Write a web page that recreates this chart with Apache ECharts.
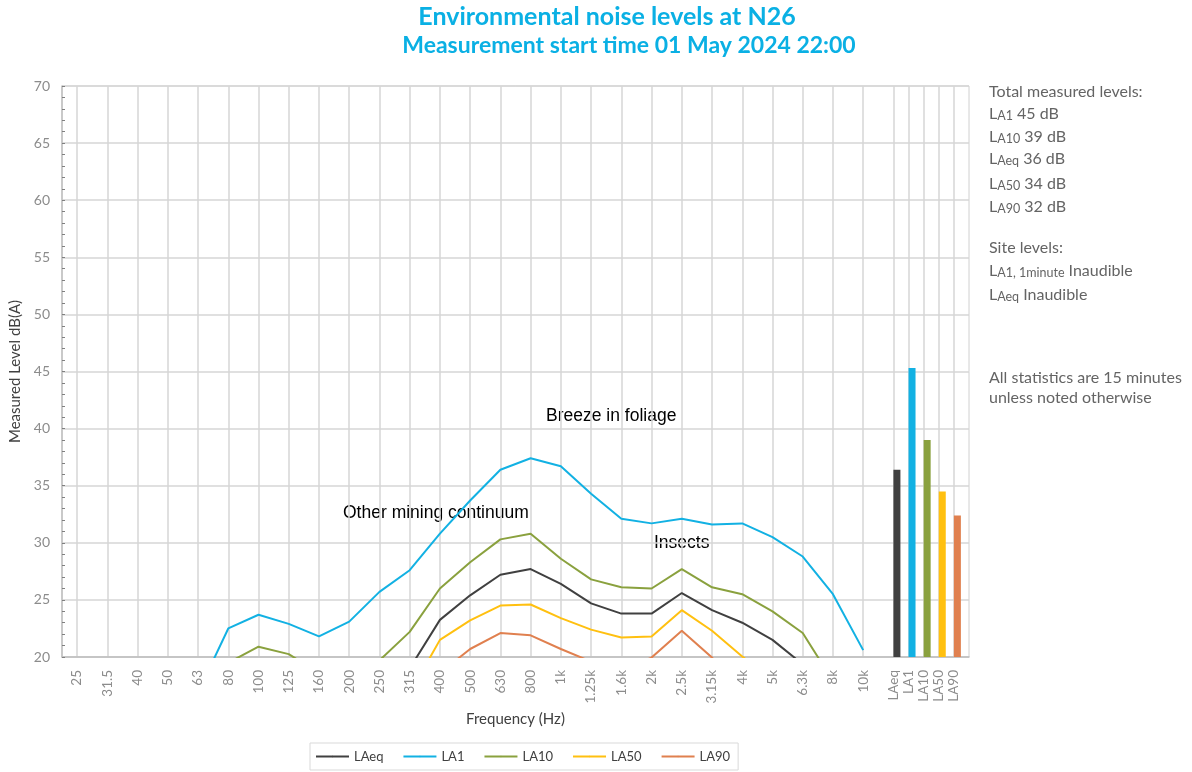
<!DOCTYPE html>
<html><head><meta charset="utf-8">
<script src="https://cdn.jsdelivr.net/npm/echarts@6/dist/echarts.min.js"></script>
<style>html,body{margin:0;padding:0;background:#fff}#c{width:1192px;height:772px}</style>
</head><body><div id="c"></div>
<script>
// ---- data ----
const bands = ['25','31.5','40','50','63','80','100','125','160','200','250','315','400','500','630','800','1k','1.25k','1.6k','2k','2.5k','3.15k','4k','5k','6.3k','8k','10k'];
const totalLabels = ['LAeq','LA1','LA10','LA50','LA90'];
const LAeq = [9.5,10.0,10.5,11.2,12.5,15.5,16.8,16.2,15.0,15.4,17.0,19.0,23.25,25.4,27.2,27.7,26.4,24.7,23.8,23.8,25.6,24.1,23.0,21.5,19.36,16.0,12.5];
const LA1  = [13.5,14.2,14.8,15.6,16.9,22.5,23.7,22.9,21.8,23.1,25.7,27.6,30.8,33.7,36.4,37.4,36.7,34.3,32.1,31.7,32.1,31.6,31.7,30.5,28.8,25.5,20.6];
const LA10 = [11.0,11.5,12.2,13.0,14.5,19.5,20.9,20.25,18.6,18.2,19.7,22.2,26.0,28.3,30.3,30.8,28.6,26.8,26.1,26.0,27.7,26.1,25.5,24.0,22.1,17.9,14.5];
const LA50 = [7.5,8.0,8.5,9.2,10.5,13.5,14.8,14.2,13.0,13.5,15.0,16.8,21.5,23.2,24.5,24.6,23.4,22.4,21.7,21.8,24.1,22.3,20.05,18.0,16.0,13.0,10.0];
const LA90 = [6.0,6.5,7.0,7.5,8.5,11.5,12.8,12.2,11.0,11.5,13.0,15.0,18.6,20.7,22.1,21.9,20.7,19.6,18.8,19.95,22.3,19.95,17.0,15.5,13.5,11.0,8.5];
const totals = [36.4,45.3,39.0,34.5,32.4];
const seriesNames = ['LAeq','LA1','LA10','LA50','LA90'];
const yTicks = {min:20, max:70, interval:5};

// ---- styles ----
const colors = ['#404040','#12B1E3','#8AA13E','#FFC010','#E0804F'];
const FONT = 'Lato, "Liberation Sans", sans-serif';
const PANEL = '#646464';

// category slots: half-band spacing, bands on odd slots
const cats = [''];
bands.forEach(b => { cats.push(b); cats.push(''); });
totalLabels.forEach(t => cats.push(t));
cats.push('');
const N = cats.length;
function spread(arr){ const d=new Array(N).fill(null); arr.forEach((v,i)=>{ d[2*i+1]=v; }); return d; }
const barStart = 2*bands.length+1;
const barData = new Array(N).fill(null);
totals.forEach((v,j)=>{ barData[barStart+j] = {value:v, itemStyle:{color:colors[j]}}; });

const lineSeries = [LAeq,LA1,LA10,LA50,LA90].map((arr,i)=>({
  name: seriesNames[i], type:'line', data: spread(arr), connectNulls:true,
  symbol:'none', clip:true, lineStyle:{color:colors[i], width:2}, itemStyle:{color:colors[i]},
  z: 3
}));

const chart = echarts.init(document.getElementById('c'));
const sub = (t)=>'{l|L}{s|'+t+'}';
const richBase = {
  l:{fontSize:16, lineHeight:20, verticalAlign:'bottom', fontFamily:FONT, color:PANEL},
  s:{fontSize:12.5, lineHeight:10, verticalAlign:'bottom', fontFamily:FONT, color:PANEL},
  n:{fontSize:16, lineHeight:20, verticalAlign:'bottom', fontFamily:FONT, color:PANEL}
};
function panelText(text, y){
  return {type:'text', left:989, top:y-10, style:{text:text, rich:richBase, fill:PANEL, font:'16px '+FONT}};
}
const ANN = '17.5px "Liberation Sans", Arial, sans-serif';
const option = {
  backgroundColor:'#fff',
  animation:false,
  grid:{left:62, right:223, top:86, bottom:115, show:true, borderColor:'#d0d0d0', borderWidth:1, containLabel:false, outerBoundsMode:'none'},
  legend:{
    data: seriesNames, left:310, top:743, orient:'horizontal',
    itemWidth:33, itemHeight:2, itemGap:19,
    borderColor:'#d9d9d9', borderWidth:1, padding:[7,8,7,5],
    textStyle:{color:'#404040', fontSize:13, fontFamily:FONT}
  },
  xAxis:{
    type:'category', data:cats, boundaryGap:false,
    name:'Frequency (Hz)', nameLocation:'middle', nameGap:54,
    nameTextStyle:{color:'#404040', fontSize:15, fontFamily:FONT},
    axisLine:{show:true, lineStyle:{color:'#bfbfbf', width:1.5}},
    axisTick:{show:false},
    axisLabel:{interval:0, rotate:90, margin:13, color:'#8c8c8c', fontSize:13.5, fontFamily:FONT},
    splitLine:{show:true, interval:(i,v)=>v!=='', lineStyle:{color:'#d6d6d6', width:1.5}}
  },
  yAxis:{
    type:'value', min:yTicks.min, max:yTicks.max, interval:yTicks.interval,
    name:'Measured Level dB(A)', nameLocation:'middle', nameGap:34,
    nameTextStyle:{color:'#404040', fontSize:15, fontFamily:FONT},
    axisLine:{show:true, lineStyle:{color:'#bfbfbf', width:1.5}},
    axisTick:{show:true, inside:true, length:3, lineStyle:{color:'#7f7f7f'}},
    minorTick:{show:true, splitNumber:5, length:3, lineStyle:{color:'#7f7f7f'}},
    axisLabel:{margin:12, color:'#8c8c8c', fontSize:14, fontFamily:FONT},
    splitLine:{show:true, lineStyle:{color:'#d6d6d6', width:1.5}}
  },
  series: [
    {name:'_pad', type:'bar', data:new Array(N).fill(null), barWidth:7, barGap:'0%', silent:true},
    {name:'Totals', type:'bar', data:barData, barWidth:7, barGap:'0%', z:2}
  ].concat(lineSeries),
  graphic:[
    {type:'text', x:607, y:17, style:{text:'Environmental noise levels at N26', fill:'#0AB0E4', font:'bold 25px '+FONT, textAlign:'center', textVerticalAlign:'middle'}},
    {type:'text', x:629, y:46, style:{text:'Measurement start time 01 May 2024 22:00', fill:'#0AB0E4', font:'bold 23px '+FONT, textAlign:'center', textVerticalAlign:'middle'}},
    {type:'text', x:546, y:416, style:{text:'Breeze in foliage', fill:'#000', font:ANN, textVerticalAlign:'middle'}},
    {type:'text', x:343, y:513, style:{text:'Other mining continuum', fill:'#000', font:ANN, textVerticalAlign:'middle'}},
    {type:'text', x:654, y:543, style:{text:'Insects', fill:'#000', font:ANN, textVerticalAlign:'middle'}},
    panelText('{n|Total measured levels:}', 94),
    panelText(sub('A1')+'{n| 45 dB}', 116),
    panelText(sub('A10')+'{n| 39 dB}', 139),
    panelText(sub('Aeq')+'{n| 36 dB}', 161),
    panelText(sub('A50')+'{n| 34 dB}', 186),
    panelText(sub('A90')+'{n| 32 dB}', 209),
    panelText('{n|Site levels:}', 250),
    panelText(sub('A1, 1minute')+'{n| Inaudible}', 273),
    panelText(sub('Aeq')+'{n| Inaudible}', 297),
    panelText('{n|All statistics are 15 minutes}', 380),
    panelText('{n|unless noted otherwise}', 400)
  ]
};
chart.setOption(option);
</script></body></html>
